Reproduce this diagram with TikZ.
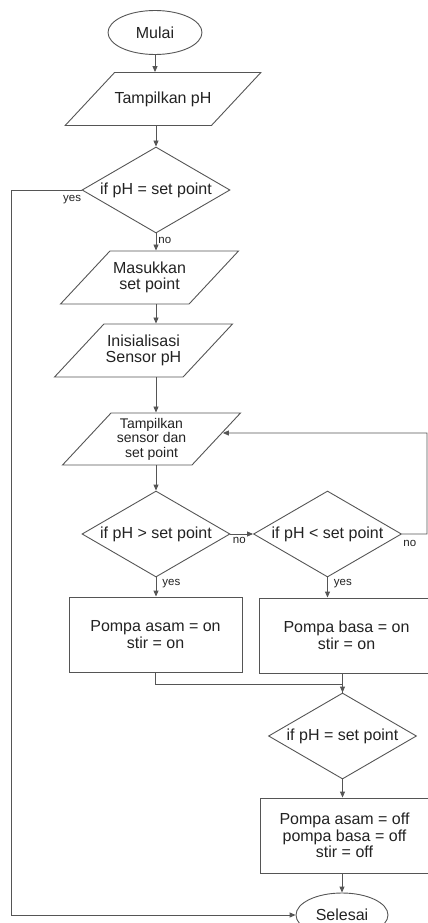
\documentclass[tikz,border=0pt]{standalone}
\usepackage{fontspec}
\setmainfont{Liberation Sans}
\usetikzlibrary{shapes.geometric,arrows.meta}
\definecolor{linegray}{HTML}{555555}
\definecolor{textgray}{HTML}{222222}

\begin{document}
\begin{tikzpicture}[x=1pt, y=-1pt, >={Triangle[length=6pt,width=5pt]}]
    \clip (0, 0) rectangle (428, 923);
    \begin{scope}[all/.style={draw=linegray, line width=0.9pt, text=textgray, align=center, inner sep=0pt, font=\fontsize{16}{16.6}\selectfont},
        term/.style={all, ellipse, minimum width=94pt, minimum height=44pt},
        io/.style={all, trapezium, trapezium left angle=47, trapezium right angle=133, trapezium stretches body, minimum width=178pt, inner ysep=10.75pt},
        dec/.style={all, diamond, aspect=1.72, minimum width=148pt, minimum height=86pt},
        proc/.style={all, rectangle, minimum height=75pt},
        lbl/.style={text=textgray, inner sep=1pt, font=\fontsize{11.5}{12}\selectfont}]
        \node[term] (start) at (155, 32.5) {Mulai};
        \node[io, inner ysep=19pt] (show) at (163, 99) {Tampilkan pH};
        \node[dec] (check) at (156, 190) {if pH = set point};
        \node[io] (input) at (149.5, 277.5) {Masukkan\\set point};
        \node[io] (init) at (143.5, 350.5) {Inisialisasi\\Sensor pH};
        \node[io, inner ysep=5pt, font=\fontsize{14}{14.5}\selectfont] (display) at (151.5, 439) {Tampilkan\\sensor dan\\set point};
        \node[dec] (high) at (156, 534) {if pH > set point};
        \node[dec] (low) at (327.5, 534) {if pH < set point};
        \node[proc, minimum width=173pt] (acid) at (155.5, 634.5) {Pompa asam = on\\stir = on};
        \node[proc, minimum width=175pt] (base) at (346.5, 635.5) {Pompa basa = on\\stir = on};
        \node[dec] (recheck) at (342.5, 736) {if pH = set point};
        \node[proc, minimum width=169pt] (stop) at (344.5, 835.5) {Pompa asam = off\\pompa basa = off\\stir = off};
        \node[term, minimum width=92pt] (finish) at (342, 915) {Selesai};
        \coordinate (yescorner) at (11, 190);
        \coordinate (loopcorner) at (427, 433);
        \begin{scope}[line width=0.9pt, draw=linegray]
        \path[->] (start) edge (start |- show.north);
        \path[->] (check.north |- show.south) edge (check);
        \path[->] (check.south) edge node[lbl, at start, anchor=north west, xshift=1pt, yshift=-2pt] {no} (check.south |- input.north);
        \path[->] (check.south |- input.south) edge (check.south |- init.north);
        \path[->] (check.south |- init.south) edge (check.south |- display.north);
        \path[->] (high.north |- display.south) edge (high);
        \path[->] (high.east) edge node[lbl, at start, anchor=north west, xshift=1pt, yshift=-2pt] {no} (low.west);
        \path[->] (high.south) edge node[lbl, at start, anchor=north west, xshift=5pt] {yes} (high.south |- acid.north);
        \path[->] (low.south) edge node[lbl, at start, anchor=north west, xshift=5pt] {yes} (low.south |- base.north);
        \draw[->] (low.east) -| (loopcorner) -- ([shift={(6,-6)}]display.east);
        \node[lbl, anchor=north west, yshift=-5pt] at (low.east) {no};
        \draw[->] (acid.south) -- ++(0, 12) -| (recheck.north);
        \draw (recheck.north |- base.south) -- (recheck.north);
        \path[->] (recheck) edge (recheck.south |- stop.north);
        \path[->] (finish.north |- stop.south) edge (finish);
        \draw[->] (check.west) -- (yescorner) |- (finish.west);
        \node[lbl, anchor=north east, xshift=1pt, yshift=-4pt] at (check.west) {yes};
        \end{scope}
    \end{scope}
\end{tikzpicture}
\end{document}
